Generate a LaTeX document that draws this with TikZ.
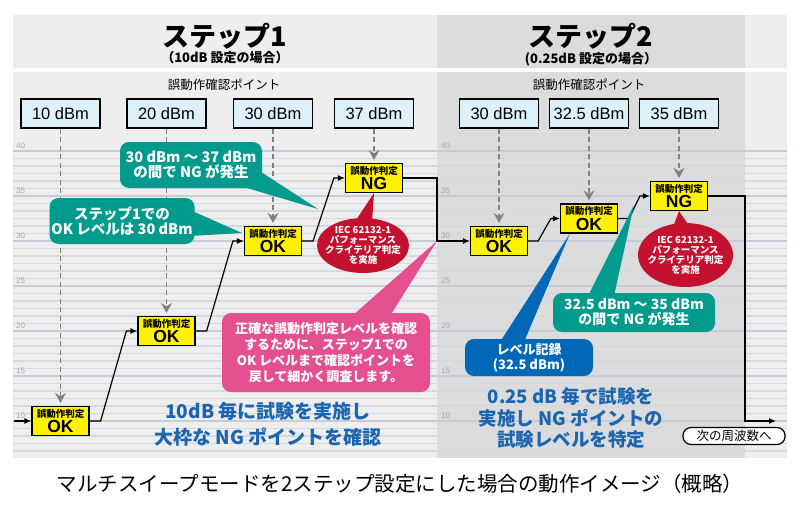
\documentclass[tikz,border=0pt]{standalone}
\usepackage{fontspec}
\setmainfont{Noto Sans CJK JP}
\newfontfamily\latinfont{Liberation Sans}
\IfFontExistsTF{Noto Sans CJK JP Black}{\newfontfamily\heavyfont{Noto Sans CJK JP Black}}{\newcommand\heavyfont{\bfseries}}
\usepackage{tikz}
\usetikzlibrary{arrows.meta,shapes.geometric}

\definecolor{panelone}{HTML}{EEEEEE}
\definecolor{paneltwo}{HTML}{DCDCDC}
\definecolor{gridline}{HTML}{D2DAE2}
\definecolor{gridmajor}{HTML}{C4CDD6}
\definecolor{pointfill}{HTML}{DDF1FB}
\definecolor{judgefill}{HTML}{FFF200}
\definecolor{tealbox}{HTML}{009B8D}
\definecolor{pinkbox}{HTML}{E4508F}
\definecolor{bluebox}{HTML}{0068B7}
\definecolor{redbox}{HTML}{C3112F}
\definecolor{memoblue}{HTML}{1B64AE}

\newcommand{\verdict}[1]{{\bfseries\fontsize{9.5}{10}\selectfont 誤動作判定}\\[1pt]{\latinfont\bfseries\fontsize{17.5}{16}\selectfont #1}}

\begin{document}
\begin{tikzpicture}[x=1pt,y=-1pt,
  point/.style={draw,line width=1.3pt,fill=pointfill,minimum width=79pt,minimum height=29pt,inner sep=0pt,font=\latinfont\fontsize{16.5}{17}\selectfont},
  judge/.style={draw,line width=1.2pt,fill=judgefill,minimum width=57pt,minimum height=29pt,inner sep=0pt,align=center},
  flow/.style={line width=1.2pt,-{Latex[length=7pt,width=6pt]}},
  probe/.style={gray,line width=1.4pt,dash pattern=on 5pt off 3.5pt,-{Stealth[length=10pt,width=11pt,inset=3.5pt]}},
  callout/.style={rounded corners=9pt,text=white,align=center,inner sep=0pt,font=\bfseries\fontsize{14.5}{15.5}\selectfont},
  iec/.style={text=white,align=center,inner sep=0pt,font=\bfseries\fontsize{9.5}{10}\selectfont},
  memo/.style={text=memoblue,align=center,font=\bfseries\fontsize{19}{26}\selectfont},
  tick/.style={anchor=south west,inner sep=0pt,text=gray!70,font=\latinfont\fontsize{8}{8}\selectfont}]

\useasboundingbox (0,0) rectangle (800,511);

% panels
\fill[panelone] (13,15) rectangle (437,68);
\fill[paneltwo] (437,15) rectangle (745,68);
\fill[panelone] (745,15) rectangle (787,68);
\fill[panelone] (13,72) rectangle (437,458);
\fill[paneltwo] (437,72) rectangle (745,458);
\fill[panelone] (745,72) rectangle (787,458);

% level grid
\foreach \k in {0,...,40}
  \draw[gridline,line width=1.2pt] (13,{151+7.5*\k}) -- (787,{151+7.5*\k});
\foreach \v in {40,35,30,25,20,15,10} {
  \draw[gridmajor,line width=1.4pt] (13,{151+9*(40-\v)}) -- (787,{151+9*(40-\v)});
  \node[tick] (tickA\v) at (16,{149+9*(40-\v)}) {\v};
  \node[tick] (tickB\v) at (441,{149+9*(40-\v)}) {\v};
}

% titles
\node (title1) at (225,36) {\heavyfont\fontsize{27}{27}\selectfont ステップ1};
\node (sub1) at (225,58) {\bfseries\fontsize{13}{13}\selectfont （10dB 設定の場合）};
\node (title2) at (591,36) {\heavyfont\fontsize{27}{27}\selectfont ステップ2};
\node (sub2) at (591,59) {\bfseries\fontsize{13}{13}\selectfont (0.25dB 設定の場合）};
\node (head1) at (224,85) {\fontsize{12.5}{13}\selectfont 誤動作確認ポイント};
\node (head2) at (589,85) {\fontsize{12.5}{13}\selectfont 誤動作確認ポイント};

% check points
\node[point] (p10) at (60.5,113.5) {10 dBm};
\node[point] (p20) at (166.5,113.5) {20 dBm};
\node[point] (p30) at (273,113.5) {30 dBm};
\node[point] (p37) at (374,113.5) {37 dBm};
\node[point] (q30) at (499,113.5) {30 dBm};
\node[point] (q32) at (589,113.5) {32.5 dBm};
\node[point] (q35) at (679,113.5) {35 dBm};

% judgements
\node[judge] (j1) at (60.5,421) {\verdict{OK}};
\node[judge] (j2) at (166.5,331) {\verdict{OK}};
\node[judge] (j3) at (273,241) {\verdict{OK}};
\node[judge] (j4) at (374,178) {\verdict{NG}};
\node[judge] (j5) at (499,241) {\verdict{OK}};
\node[judge] (j6) at (589,218.5) {\verdict{OK}};
\node[judge] (j7) at (679,196) {\verdict{NG}};

\foreach \p/\j in {p10/j1,p20/j2,p30/j3,p37/j4,q30/j5,q32/j6,q35/j7}
  \draw[probe] (\p.south) -- ([yshift=3pt]\j.north);

% sweep path
\coordinate (start) at (14,421);
\coordinate (drop) at (437,241);
\coordinate (next) at (776,421);
\draw[flow] (start) -- (j1.west);
\draw[flow] (j1.east) -- ++(11,0) -- ([xshift=-11pt]j2.west) -- (j2.west);
\draw[flow] (j2.east) -- ++(11,0) -- ([xshift=-11pt]j3.west) -- (j3.west);
\draw[flow] (j3.east) -- ++(11,0) -- ([xshift=-11pt]j4.west) -- (j4.west);
\draw[flow] (j4.east) -| (drop) -- (j5.west);
\draw[flow] (j5.east) -- ++(10,0) -- ([xshift=-9pt]j6.west) -- (j6.west);
\draw[flow] (j6.east) -- ++(11,0) -- ([xshift=-10pt]j7.west) -- (j7.west);
\draw[flow] (j7.east) -| ([xshift=-31pt]next) -- (next);

\node[draw,line width=1.2pt,fill=white,rounded corners=8pt,minimum width=102pt,minimum height=17pt,inner sep=0pt,font=\fontsize{12.5}{13}\selectfont] (nextf) at (734,436) {次の周波数へ};

% callouts
\coordinate (tipA) at (318,209);
\coordinate (tipB) at (242,233);
\coordinate (tipC) at (634,205);
\fill[tealbox] (240,186) -- (258,170) -- (tipA) -- cycle;
\fill[tealbox] (190,210) -- (190,236) -- (tipB) -- cycle;
\fill[tealbox] (588,296) -- (614,296) -- (tipC) -- cycle;
\fill[pinkbox] (352,316) -- (390,316) -- (drop) -- cycle;
\fill[bluebox] (500,342) -- (524,342) -- ([xshift=10pt]j6.south west) -- cycle;
\fill[redbox] (352,226) -- (372,222) -- (j4.south) -- cycle;
\fill[redbox] (672,230) -- (692,230) -- (j7.south) -- cycle;
\fill[redbox] (363,245.5) ellipse [x radius=46, y radius=27.5];
\fill[redbox] (685.5,255) ellipse [x radius=47.5, y radius=32];

\node[callout,fill=tealbox,minimum width=142pt,minimum height=46pt] (t1) at (191,165) {30 dBm ～ 37 dBm\\の間で NG が発生};
\node[callout,fill=tealbox,minimum width=145pt,minimum height=46pt] (t2) at (122,221) {ステップ1での\\OK レベルは 30 dBm};
\node[callout,fill=tealbox,minimum width=162pt,minimum height=39pt,font=\bfseries\fontsize{14}{15}\selectfont] (t3) at (634,312.5) {32.5 dBm ～ 35 dBm\\の間で NG が発生};
\node[callout,fill=pinkbox,minimum width=208pt,minimum height=79pt,font=\bfseries\fontsize{13}{16}\selectfont] (pk) at (326,352.5) {正確な誤動作判定レベルを確認\\するために、ステップ1での\\OK レベルまで確認ポイントを\\戻して細かく調査します。};
\node[callout,fill=bluebox,minimum width=128pt,minimum height=37pt,font=\bfseries\fontsize{13}{15}\selectfont] (rec) at (529,357.5) {レベル記録\\(32.5 dBm)};

\node[iec] (iec1) at (363,245) {IEC 62132-1\\パフォーマンス\\クライテリア判定\\を実施};
\node[iec] (iec2) at (685.5,255) {IEC 62132-1\\パフォーマンス\\クライテリア判定\\を実施};

% notes
\node[memo] (memo1) at (268,424) {10dB 毎に試験を実施し\\大枠な NG ポイントを確認};
\node[memo,font=\bfseries\fontsize{18.5}{21.5}\selectfont] (memo2) at (571,418.5) {0.25 dB 毎で試験を\\実施し NG ポイントの\\試験レベルを特定};

\node (caption) at (400,484) {\fontsize{20.5}{20}\selectfont マルチスイープモードを2ステップ設定にした場合の動作イメージ（概略）};

\end{tikzpicture}
\end{document}
